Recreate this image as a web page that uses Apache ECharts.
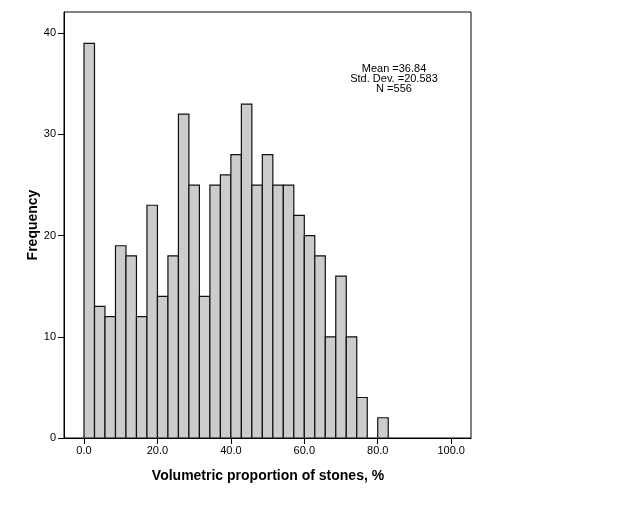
<!DOCTYPE html>
<html><head><meta charset="utf-8">
<script src="https://cdn.jsdelivr.net/npm/echarts@6/dist/echarts.min.js"></script>
<style>html,body{margin:0;padding:0;background:#fff}#c{width:631px;height:506px}</style>
</head><body><div id="c"></div>
<script>
// Histogram bins: width 20/7 starting at 0
const binWidth = 20 / 7;
const counts = [39,13,12,19,18,12,23,14,18,32,25,14,25,26,28,33,25,28,25,25,22,20,18,10,16,10,4,0,2];
const xTicks = [0, 20, 40, 60, 80, 100];
const statsLines = ['Mean =36.84', 'Std. Dev. =20.583', 'N =556'];
const xTitle = 'Volumetric proportion of stones, %';
const yTitle = 'Frequency';

const data = counts.map((c, i) => [i * binWidth, (i + 1) * binWidth, c]);
const font = '"Liberation Sans", Arial, sans-serif';

const chart = echarts.init(document.getElementById('c'), null, {renderer: 'canvas'});
chart.setOption({
  animation: false,
  grid: {left: 64, top: 12, right: 160, bottom: 68, show: true, borderColor: '#000', borderWidth: 1, backgroundColor: 'transparent'},
  xAxis: {
    type: 'value', min: -5.45, max: 105.4,
    splitLine: {show: false},
    axisLine: {show: true, onZero: false, lineStyle: {color: '#000', width: 1}},
    axisTick: {show: true, length: 6, lineStyle: {color: '#000'}, customValues: xTicks},
    axisLabel: {customValues: xTicks, formatter: v => v.toFixed(1), color: '#000', fontSize: 11, fontFamily: font, margin: 7}
  },
  yAxis: {
    type: 'value', min: 0, max: 42.1, interval: 10,
    splitLine: {show: false},
    axisLine: {show: true, onZero: false, lineStyle: {color: '#000', width: 1}},
    axisTick: {show: true, length: 6, lineStyle: {color: '#000'}},
    axisLabel: {color: '#000', fontSize: 11, fontFamily: font, margin: 8, showMaxLabel: false}
  },
  series: [{
    type: 'custom',
    data: data,
    encode: {x: [0, 1], y: 2},
    renderItem: function (params, api) {
      const h = api.value(2);
      if (!h) return;
      const p0 = api.coord([api.value(0), h]);
      const p1 = api.coord([api.value(1), 0]);
      return {
        type: 'rect',
        shape: {x: p0[0], y: p0[1], width: p1[0] - p0[0], height: p1[1] - p0[1]},
        style: {fill: '#cccccc', stroke: '#111', lineWidth: 1.2}
      };
    }
  }],
  graphic: [
    {type: 'text', left: 394 - 60, top: 63, style: {text: statsLines.join('\n'), width: 120, align: 'center', x: 60, textAlign: 'center', font: '11px ' + font, fill: '#000', lineHeight: 10}},
    {type: 'text', x: 268, y: 476, style: {text: xTitle, textAlign: 'center', textVerticalAlign: 'middle', font: 'bold 14px ' + font, fill: '#000'}},
    {type: 'text', x: 33, y: 225, rotation: Math.PI / 2, style: {text: yTitle, textAlign: 'center', textVerticalAlign: 'middle', font: 'bold 14px ' + font, fill: '#000'}}
  ]
});
</script></body></html>
